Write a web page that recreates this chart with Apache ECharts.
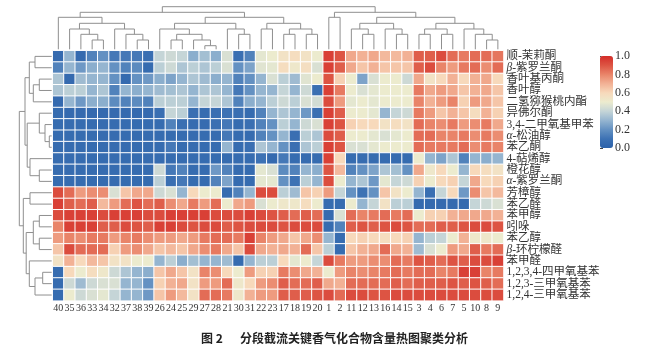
<!DOCTYPE html>
<html>
<head>
<meta charset="utf-8">
<script src="https://cdn.jsdelivr.net/npm/echarts@6/dist/echarts.min.js"></script>
<style>html,body{margin:0;padding:0;background:#fff}#c{width:660px;height:346px}</style>
</head>
<body>
<div id="c"></div>
<script>
// Column (sample) labels in displayed order
const colLabels = ['40','35','36','33','34','32','37','38','39','26','24','25','29','27','28','21','30','31','22','23','17','18','19','20','1','2','11','12','13','16','14','15','3','4','6','7','5','10','8','9'];
// Row (compound) labels in displayed order, top to bottom
const rowLabels = ['顺-茉莉酮','β-紫罗兰酮','香叶基丙酮','香叶醇','二氢猕猴桃内酯','异佛尔酮','3,4-二甲氧基甲苯','α-松油醇','苯乙酮','4-萜烯醇','橙花醇','α-紫罗兰酮','芳樟醇','苯乙醛','苯甲醇','吲哚','苯乙醇','β-环柠檬醛','苯甲醛','1,2,3,4-四甲氧基苯','1,2,3-三甲氧基苯','1,2,4-三甲氧基苯'];
// Colour bar ticks
const barTicks = [0, 0.2, 0.4, 0.6, 0.8, 1.0];
// Normalised contents, one list per compound (row), columns in colLabels order
const rowValues = [
 [0.05,0.30,0.05,0.15,0.20,0.12,0.12,0.12,0.08,0.40,0.42,0.40,0.28,0.33,0.28,0.45,0.08,0.15,0.48,0.50, 0.55,0.58,0.55,0.50,0.95,0.90,0.72,0.70,0.72,0.68,0.68,0.70,0.88,0.88,0.92,0.85,0.82,0.85,0.85,0.83],
 [0.15,0.30,0.22,0.28,0.30,0.20,0.15,0.18,0.06,0.38,0.42,0.35,0.38,0.35,0.38,0.45,0.20,0.25,0.47,0.48, 0.58,0.52,0.57,0.45,0.95,0.88,0.72,0.65,0.70,0.65,0.65,0.65,0.88,0.92,0.80,0.75,0.82,0.85,0.78,0.85],
 [0.35,0.05,0.32,0.30,0.30,0.20,0.05,0.20,0.22,0.28,0.25,0.30,0.35,0.32,0.28,0.30,0.15,0.20,0.30,0.45, 0.38,0.32,0.47,0.50,0.90,0.62,0.50,0.25,0.45,0.50,0.50,0.42,0.72,0.55,0.60,0.70,0.60,0.70,0.72,0.60],
 [0.35,0.38,0.38,0.30,0.35,0.15,0.30,0.28,0.30,0.32,0.33,0.35,0.30,0.35,0.35,0.30,0.12,0.20,0.30,0.30, 0.40,0.30,0.42,0.08,0.95,0.82,0.50,0.45,0.48,0.50,0.50,0.50,0.82,0.72,0.75,0.72,0.65,0.70,0.72,0.65],
 [0.05,0.30,0.22,0.28,0.28,0.18,0.15,0.18,0.15,0.38,0.38,0.38,0.30,0.40,0.40,0.35,0.15,0.28,0.30,0.38, 0.42,0.38,0.45,0.43,0.92,0.75,0.48,0.50,0.48,0.50,0.50,0.50,0.80,0.70,0.75,0.80,0.62,0.75,0.72,0.65],
 [0.06,0.05,0.05,0.05,0.05,0.05,0.05,0.05,0.05,0.08,0.40,0.38,0.08,0.06,0.08,0.10,0.08,0.06,0.15,0.30, 0.35,0.30,0.22,0.08,0.95,0.88,0.50,0.50,0.48,0.30,0.40,0.42,0.82,0.75,0.65,0.70,0.65,0.58,0.70,0.62],
 [0.06,0.06,0.06,0.06,0.06,0.06,0.06,0.06,0.06,0.06,0.15,0.08,0.06,0.06,0.08,0.12,0.06,0.08,0.15,0.20, 0.38,0.30,0.42,0.45,0.95,0.90,0.62,0.60,0.60,0.55,0.58,0.55,0.85,0.80,0.78,0.82,0.75,0.78,0.82,0.72],
 [0.06,0.06,0.06,0.06,0.06,0.06,0.06,0.06,0.06,0.06,0.06,0.06,0.06,0.06,0.06,0.12,0.06,0.06,0.15,0.20, 0.30,0.08,0.38,0.35,0.92,0.88,0.50,0.50,0.48,0.45,0.48,0.50,0.85,0.85,0.80,0.80,0.82,0.78,0.82,0.78],
 [0.06,0.06,0.06,0.06,0.06,0.06,0.06,0.06,0.06,0.06,0.12,0.06,0.06,0.06,0.06,0.30,0.06,0.08,0.35,0.30, 0.20,0.08,0.35,0.38,0.95,0.90,0.45,0.45,0.48,0.50,0.50,0.50,0.85,0.82,0.82,0.82,0.85,0.78,0.82,0.80],
 [0.06,0.06,0.06,0.06,0.06,0.06,0.06,0.06,0.06,0.06,0.06,0.06,0.06,0.06,0.06,0.06,0.06,0.06,0.10,0.05, 0.12,0.06,0.06,0.06,0.95,0.60,0.06,0.06,0.06,0.06,0.06,0.06,0.50,0.30,0.25,0.35,0.15,0.30,0.28,0.30],
 [0.06,0.06,0.06,0.06,0.06,0.06,0.06,0.06,0.06,0.42,0.12,0.15,0.06,0.06,0.22,0.15,0.06,0.06,0.48,0.45, 0.18,0.15,0.30,0.28,0.90,0.68,0.15,0.20,0.25,0.35,0.33,0.20,0.72,0.52,0.60,0.50,0.30,0.60,0.58,0.55],
 [0.06,0.06,0.06,0.06,0.06,0.06,0.06,0.06,0.06,0.38,0.08,0.12,0.06,0.06,0.15,0.25,0.06,0.06,0.48,0.48, 0.20,0.10,0.38,0.30,0.92,0.50,0.30,0.35,0.22,0.48,0.40,0.42,0.62,0.50,0.60,0.62,0.40,0.72,0.60,0.62],
 [0.92,0.85,0.75,0.78,0.78,0.45,0.65,0.72,0.72,0.42,0.45,0.30,0.60,0.50,0.50,0.06,0.15,0.30,0.92,0.92, 0.38,0.32,0.65,0.62,0.75,0.40,0.20,0.10,0.20,0.65,0.55,0.50,0.30,0.08,0.40,0.60,0.22,0.78,0.65,0.68],
 [0.95,0.88,0.85,0.88,0.68,0.75,0.85,0.90,0.85,0.88,0.78,0.72,0.82,0.75,0.85,0.50,0.72,0.75,0.45,0.50, 0.52,0.52,0.58,0.50,0.06,0.06,0.50,0.30,0.40,0.55,0.38,0.38,0.05,0.05,0.05,0.05,0.05,0.40,0.42,0.45],
 [0.92,0.95,0.95,0.95,0.92,0.95,0.95,0.95,0.92,0.92,0.95,0.95,0.95,0.95,0.92,0.92,0.92,0.95,0.92,0.90, 0.88,0.85,0.88,0.85,0.05,0.45,0.85,0.80,0.82,0.85,0.82,0.85,0.50,0.62,0.62,0.70,0.72,0.72,0.72,0.70],
 [0.80,0.95,0.95,0.95,0.88,0.88,0.92,0.90,0.88,0.95,0.95,0.92,0.90,0.92,0.92,0.88,0.90,0.92,0.92,0.92, 0.90,0.92,0.92,0.92,0.06,0.15,0.88,0.90,0.88,0.90,0.92,0.90,0.85,0.85,0.88,0.88,0.90,0.92,0.92,0.90],
 [0.75,0.80,0.78,0.82,0.82,0.75,0.80,0.82,0.78,0.75,0.75,0.72,0.75,0.82,0.85,0.85,0.82,0.95,0.80,0.75, 0.72,0.65,0.72,0.78,0.30,0.06,0.60,0.62,0.60,0.58,0.60,0.62,0.30,0.38,0.40,0.50,0.70,0.52,0.52,0.50],
 [0.65,0.92,0.85,0.85,0.85,0.62,0.75,0.78,0.72,0.65,0.68,0.65,0.72,0.78,0.82,0.72,0.65,0.92,0.72,0.70, 0.72,0.70,0.85,0.65,0.38,0.06,0.65,0.70,0.72,0.85,0.72,0.70,0.32,0.45,0.50,0.75,0.72,0.88,0.82,0.85],
 [0.55,0.70,0.60,0.68,0.65,0.55,0.55,0.50,0.50,0.30,0.38,0.28,0.33,0.30,0.30,0.32,0.06,0.30,0.38,0.38, 0.60,0.48,0.50,0.40,0.92,0.82,0.75,0.75,0.78,0.78,0.85,0.82,0.90,0.88,0.85,0.90,0.88,0.92,0.92,0.95],
 [0.06,0.60,0.50,0.58,0.52,0.42,0.35,0.30,0.28,0.65,0.72,0.65,0.55,0.80,0.78,0.60,0.50,0.75,0.62,0.62, 0.82,0.78,0.72,0.70,0.50,0.75,0.80,0.78,0.80,0.82,0.85,0.82,0.85,0.85,0.80,0.82,0.95,0.95,0.80,0.82],
 [0.06,0.42,0.32,0.42,0.45,0.45,0.30,0.30,0.20,0.62,0.70,0.72,0.55,0.75,0.75,0.85,0.52,0.60,0.75,0.78, 0.88,0.85,0.85,0.88,0.72,0.70,0.85,0.85,0.85,0.85,0.88,0.85,0.88,0.88,0.88,0.90,0.88,0.90,0.88,0.85],
 [0.06,0.50,0.42,0.45,0.48,0.40,0.30,0.30,0.22,0.65,0.75,0.68,0.55,0.85,0.85,0.82,0.52,0.70,0.75,0.75, 0.88,0.88,0.88,0.90,0.92,0.85,0.92,0.92,0.90,0.90,0.92,0.92,0.92,0.92,0.92,0.92,0.92,0.92,0.92,0.92]
];
// Column clustering: [childA, childB, mergeHeight]; 'nK' refers to the K-th merge
const colMerges = [
 [3,4,10.7],[2,'n0',16.4],[1,'n1',21.7],[7,8,10.7],[6,'n3',16.4],[5,'n4',21.7],['n2','n5',27.4],[0,'n6',33.4],
 [10,11,10.7],[13,14,5],[12,'n9',10.7],['n8','n10',16.4],[9,'n11',21.7],[16,17,16.4],[15,'n13',21.7],['n12','n14',27.4],
 [18,19,21.7],[20,21,16.4],[22,23,16.4],['n17','n18',21.7],['n16','n19',27.4],['n15','n20',33.4],['n7','n21',38.4],
 [24,25,33.4],[27,28,16.4],[26,'n24',21.7],[30,31,16.4],[29,'n26',21.7],['n25','n27',27.4],
 [32,33,16.4],[34,35,16.4],['n29','n30',21.7],[38,39,10.7],[37,'n32',16.4],[36,'n33',21.7],['n31','n34',27.4],
 ['n28','n35',33.4],['n23','n36',38.4],['n22','n37',44]
];
// Row clustering
const rowMerges = [
 [0,1,17.7],[2,3,13.4],['n1',4,19.4],['n0','n2',23.4],[7,8,3.4],[6,'n4',7.7],[5,'n5',13.4],
 [10,11,13.4],[9,'n7',22.7],['n6','n8',25.5],['n3','n9',27.7],
 [12,13,22.7],[14,15,13.4],[16,17,13.4],['n12','n13',19.4],[19,20,10],['n15',21,17.7],[18,'n16',23.4],
 ['n14','n17',26.5],['n11','n18',29.4],['n10','n19',33.4]
];

function treeSegments(merges, leafH) {
  const nodes = [];
  const get = (ref) => typeof ref === 'string' ? nodes[+ref.slice(1)] : {pos: ref + 0.5, h: leafH};
  const segs = [];
  merges.forEach(m => {
    const a = get(m[0]), b = get(m[1]), h = m[2];
    segs.push([[a.pos, a.h], [a.pos, h], [b.pos, h], [b.pos, b.h]]);
    nodes.push({pos: (a.pos + b.pos) / 2, h: h});
  });
  return segs;
}

const heatData = [];
rowValues.forEach((row, r) => row.forEach((v, c) => heatData.push([c, r, v])));

const HM = {left: 52.7, top: 50.7, width: 450.8, height: 250};
const serif = '"Liberation Serif","Times New Roman",serif';
const labelFont = '"Liberation Serif","Noto Sans CJK SC",serif';

const colSegs = treeSegments(colMerges, 1.4).map(s => ({coords: s}));
const rowSegs = treeSegments(rowMerges, 1).map(s => ({coords: s.map(p => [p[1], p[0]])}));

const treeLine = {color: '#8f8f8f', width: 1, opacity: 1};

const chart = echarts.init(document.getElementById('c'), null, {renderer: 'canvas'});
chart.setOption({
  animation: false,
  backgroundColor: '#fff',
  title: {
    text: '{a|图 2}{b|分段截流关键香气化合物含量热图聚类分析}',
    left: 196, top: 327,
    textStyle: {
      rich: {
        a: {fontFamily: '"Noto Sans CJK SC"', fontSize: 12, fontWeight: 'bold', color: '#222', width: 39},
        b: {fontFamily: '"Noto Sans CJK SC"', fontSize: 12, fontWeight: 'bold', color: '#222'}
      }
    }
  },
  grid: [
    {left: HM.left, top: HM.top, width: HM.width, height: HM.height},
    {left: HM.left, top: 0, width: HM.width, height: HM.top},
    {left: 0, top: HM.top, width: HM.left, height: HM.height},
    {left: 600, top: 56, width: 13, height: 92}
  ],
  xAxis: [
    {type: 'category', gridIndex: 0, data: colLabels, position: 'bottom',
     axisLine: {show: false}, axisTick: {show: false}, splitLine: {show: false},
     axisLabel: {interval: 0, margin: 3, fontSize: 10, fontFamily: serif, color: '#333'}},
    {type: 'value', gridIndex: 1, min: 0, max: 40, show: false},
    {type: 'value', gridIndex: 2, min: 0, max: HM.left, inverse: true, show: false},
    {type: 'value', gridIndex: 3, min: 0, max: 1, show: false}
  ],
  yAxis: [
    {type: 'category', gridIndex: 0, data: rowLabels, position: 'right', inverse: true,
     axisLine: {show: false}, axisTick: {show: false}, splitLine: {show: false},
     axisLabel: {interval: 0, margin: 3, fontSize: 11.5, fontFamily: labelFont, color: '#333',
       formatter: (v) => {
         if (v[0] === 'α' || v[0] === 'β') return '{g|' + v[0] + '}{n|' + v.slice(1) + '}';
         return '{n|' + v + '}';
       },
       rich: {
         g: {fontStyle: 'italic', fontSize: 11.5, fontFamily: serif, color: '#333'},
         n: {fontSize: 11.5, fontFamily: labelFont, color: '#333'}
       }}},
    {type: 'value', gridIndex: 1, min: 0, max: HM.top, show: false},
    {type: 'value', gridIndex: 2, min: 0, max: 22, inverse: true, show: false},
    {type: 'value', gridIndex: 3, min: 0, max: 1, interval: 0.2, position: 'right',
     axisLine: {show: false}, splitLine: {show: false},
     axisTick: {show: true, length: 3, inside: false, lineStyle: {color: '#444', width: 1}},
     axisLabel: {margin: 2, fontSize: 12, fontFamily: serif, color: '#333',
       formatter: (v) => barTicks.indexOf(+v.toFixed(1)) >= 0 ? v.toFixed(1) : ''}}
  ],
  visualMap: {
    type: 'continuous', min: 0, max: 1, seriesIndex: 0, calculable: false,
    left: 600, top: 56, itemWidth: 13, itemHeight: 92, padding: 0,
    inRange: {color: ['#2c62aa','#3d72b4','#6491c2','#95b5d0','#c5d5d7','#ecebce','#f7d9bb','#f2b195','#e98469','#dd5443','#d42c28']}
  },
  series: [
    {type: 'heatmap', xAxisIndex: 0, yAxisIndex: 0, data: heatData,
     itemStyle: {borderColor: '#ffffff', borderWidth: 1}, emphasis: {disabled: true}},
    {type: 'lines', coordinateSystem: 'cartesian2d', xAxisIndex: 1, yAxisIndex: 1, polyline: true,
     silent: true, data: colSegs, lineStyle: treeLine},
    {type: 'lines', coordinateSystem: 'cartesian2d', xAxisIndex: 2, yAxisIndex: 2, polyline: true,
     silent: true, data: rowSegs, lineStyle: treeLine},
    {type: 'line', xAxisIndex: 3, yAxisIndex: 3, data: [], silent: true}
  ]
});
</script>
</body>
</html>
